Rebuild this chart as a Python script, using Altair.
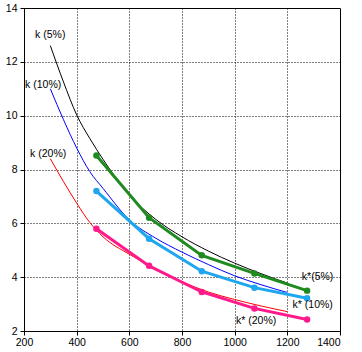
import altair as alt
import pandas as pd

# ---- data ----
x_theory = [300, 350, 400, 450, 500, 600, 700, 800, 900, 1000, 1100, 1200]
k5 = [12.6, 11.25, 10.03, 9.15, 8.38, 7.05, 6.15, 5.5, 4.97, 4.52, 4.13, 3.78]
k10 = [11.0, 9.85, 8.8, 7.92, 7.3, 6.13, 5.45, 4.93, 4.47, 4.05, 3.72, 3.43]
k20 = [8.4, 7.55, 6.75, 6.03, 5.5, 4.85, 4.3, 3.83, 3.45, 3.17, 2.93, 2.72]

x_exp = [475, 675, 875, 1075, 1275]
ks5 = [8.52, 6.21, 4.81, 4.14, 3.5]
ks10 = [7.2, 5.43, 4.22, 3.61, 3.22]
ks20 = [5.8, 4.42, 3.45, 2.84, 2.43]

theory_names = ["k (5%)", "k (10%)", "k (20%)"]
exp_names = ["k*(5%)", "k* (10%)", "k* (20%)"]

label_text = ["k (5%)", "k (10%)", "k (20%)", "k*(5%)", "k* (10%)", "k* (20%)"]
label_x = [242, 204, 223, 1255, 1220, 1005]
label_y = [13.0, 11.13, 8.58, 4.02, 2.96, 2.38]

# ---- tables ----
rows = []
for name, vals in zip(theory_names, [k5, k10, k20]):
    for i, (x, y) in enumerate(zip(x_theory, vals)):
        rows.append({"series": name, "x": x, "k": y, "order": i})
theory = pd.DataFrame(rows)

rows = []
for name, vals in zip(exp_names, [ks5, ks10, ks20]):
    for i, (x, y) in enumerate(zip(x_exp, vals)):
        rows.append({"series": name, "x": x, "k": y, "order": i})
exp = pd.DataFrame(rows)

labels = pd.DataFrame({"text": label_text, "x": label_x, "y": label_y})

FONT = "Liberation Sans"
FS = 10.5

major_x = "datum.value % 200 === 0"
major_y = "datum.value % 2 === 0"

xscale = alt.Scale(domain=[200, 1400], nice=False, zero=False)
yscale = alt.Scale(domain=[2, 14], nice=False, zero=False)

x_axis = alt.Axis(
    values=list(range(200, 1401, 50)),
    labelExpr=f"{major_x} ? format(datum.value, 'd') : ''",
    labelOverlap=False,
    labelFlush=False,
    labelAlign={"condition": {"test": "datum.value === 1400", "value": "right"}, "value": "center"},
    tickSize={"condition": {"test": major_x, "value": 4}, "value": 2},
    grid=True,
    gridColor="black",
    gridDash=[1, 2],
    gridWidth=1,
    gridOpacity={"condition": {"test": f"{major_x} && datum.value > 200 && datum.value < 1400", "value": 1}, "value": 0},
    domainColor="black",
    tickColor="black",
    labelColor="black",
    labelFont=FONT,
    labelFontSize=FS,
    labelPadding=2,
    title=None,
)
y_axis = alt.Axis(
    values=[2 + 0.25 * i for i in range(49)],
    labelExpr=f"{major_y} ? format(datum.value, 'd') : ''",
    labelOverlap=False,
    labelFlush=False,
    tickSize={"condition": {"test": major_y, "value": 4}, "value": 2},
    grid=True,
    gridColor="black",
    gridDash=[1, 2],
    gridWidth=1,
    gridOpacity={"condition": {"test": f"{major_y} && datum.value > 2 && datum.value < 14", "value": 1}, "value": 0},
    domainColor="black",
    tickColor="black",
    labelColor="black",
    labelFont=FONT,
    labelFontSize=FS,
    labelPadding=3,
    title=None,
)

theory_colors = alt.Scale(domain=theory_names, range=["#000000", "#0000ff", "#ff0000"])
exp_colors = alt.Scale(domain=exp_names, range=["#1f8a1f", "#1ea6ee", "#ff1a8c"])

thin = alt.Chart(theory).mark_line(strokeWidth=1, interpolate="monotone", clip=True).encode(
    x=alt.X("x:Q", scale=xscale, axis=x_axis),
    y=alt.Y("k:Q", scale=yscale, axis=y_axis),
    color=alt.Color("series:N", scale=theory_colors, legend=None),
    detail="series:N",
    order="order:Q",
)

thick = alt.Chart(exp).mark_line(strokeWidth=3, clip=True).encode(
    x=alt.X("x:Q", scale=xscale),
    y=alt.Y("k:Q", scale=yscale),
    stroke=alt.Stroke("series:N", scale=exp_colors, legend=None),
    detail="series:N",
    order="order:Q",
)

pts = alt.Chart(exp).mark_circle(size=42, opacity=1).encode(
    x=alt.X("x:Q", scale=xscale),
    y=alt.Y("k:Q", scale=yscale),
    fill=alt.Fill("series:N", scale=exp_colors, legend=None),
)

txt = alt.Chart(labels).mark_text(align="left", baseline="middle", font=FONT, fontSize=FS, color="black").encode(
    x=alt.X("x:Q", scale=xscale),
    y=alt.Y("y:Q", scale=yscale),
    text="text:N",
)

chart = (
    alt.layer(thin, thick, pts, txt)
    .resolve_scale(color="independent", stroke="independent", fill="independent")
    .properties(
        width=316,
        height=323,
        autosize=alt.AutoSizeParams(type="none"),
        padding={"left": 24, "top": 8, "right": 22, "bottom": 21},
        background="white",
    )
    .configure_view(stroke="black", strokeWidth=1)
)

chart.save("out.html", embed_options={"renderer": "svg", "actions": False})
